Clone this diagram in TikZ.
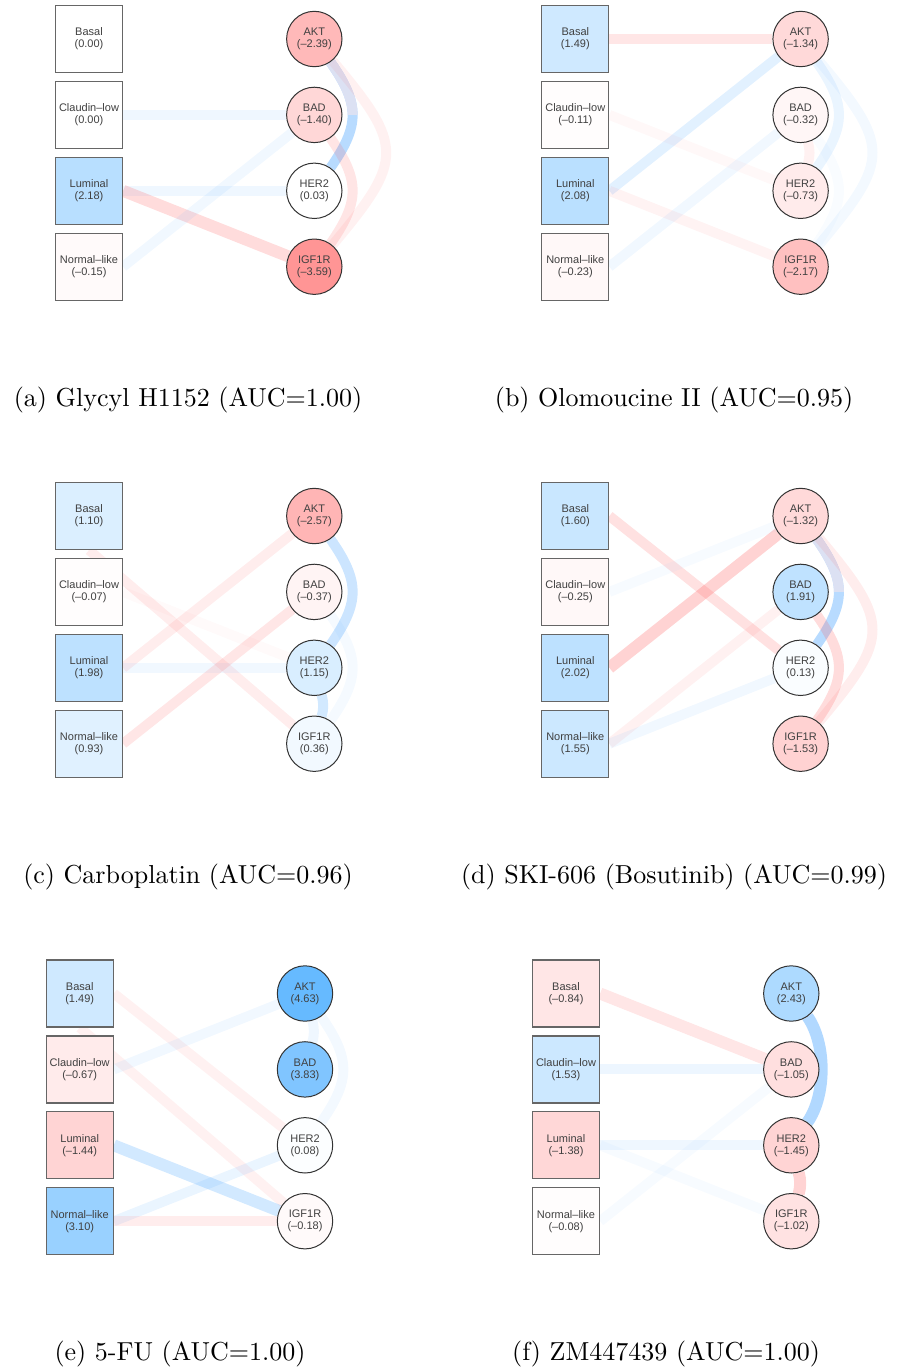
\documentclass[tikz,border=0pt]{standalone}
\usepackage{fontspec}
\newfontfamily\labfont{Liberation Sans}
\newfontfamily\capfont{lmroman10-regular}[Extension=.otf]
\usetikzlibrary{positioning,backgrounds}
\definecolor{posn}{RGB}{0,140,255}
\definecolor{negn}{RGB}{255,30,30}
\definecolor{posc}{RGB}{51,153,255}
\definecolor{negc}{RGB}{255,80,80}
\definecolor{lavc}{RGB}{220,225,243}

\begin{document}
\begin{tikzpicture}[
        x=1pt, y=1pt,
        sub/.style={rectangle, draw=black!60, line width=1.2pt, minimum size=67pt, inner sep=0pt, align=center, text=black!75, font=\labfont\fontsize{11}{12}\selectfont},
        gene/.style={circle, draw=black!80, line width=1pt, minimum size=55.4pt, inner sep=0pt, align=center, text=black!75, font=\labfont\fontsize{11}{12}\selectfont},
        up/.style={fill=posn!#1!white},
        dn/.style={fill=negn!#1!white},
        posedge/.style={draw=posc, draw opacity=#1, line width=10pt},
        negedge/.style={draw=negc, draw opacity=#1, line width=10pt},
        lavedge/.style={draw=lavc, line width=10pt},
        heavy/.style={line width=12pt},
        arc1/.style={out=-75, in=75},
        arc2/.style={out=-55, in=55, looseness=1.25},
        arc3/.style={out=-50, in=50, looseness=1.55},
        subcap/.style={anchor=base, font=\capfont\fontsize{26}{31}\selectfont},
        node distance=7.7pt and 163pt
    ]
    \useasboundingbox (0,0) rectangle (897,-1371);

    % (a)
    \node[sub, up=0]   (a-bas)                  at (89,-39) {Basal\\(0.00)};
    \node[sub, up=0]   (a-cl)   [below=of a-bas] {Claudin–low\\(0.00)};
    \node[sub, up=28]  (a-lum)  [below=of a-cl]  {Luminal\\(2.18)};
    \node[sub, dn=2]   (a-nl)   [below=of a-lum] {Normal–like\\(–0.15)};
    \node[gene, dn=31] (a-akt)  [right=of a-bas] {AKT\\(–2.39)};
    \node[gene, dn=18] (a-bad)  [right=of a-cl]  {BAD\\(–1.40)};
    \node[gene, up=0]  (a-her2) [right=of a-lum] {HER2\\(0.03)};
    \node[gene, dn=47] (a-igf)  [right=of a-nl]  {IGF1R\\(–3.59)};
    \node[subcap] (a-cap) at (188,-406) {(a) Glycyl H1152 (AUC=1.00)};
    \begin{scope}[on background layer]
        \draw[posedge=.35] (a-akt) to[arc2] (a-her2);
        \begin{scope}
            \clip (a-bad.center) rectangle ([xshift=90pt]a-akt.center);
            \draw[lavedge] (a-akt) to[arc2] (a-her2);
        \end{scope}
        \draw[negedge=.08] (a-akt) to[arc3] (a-igf);
        \draw[negedge=.15] (a-bad) to[arc2] (a-igf);
        \draw[posedge=.08] (a-cl.east) -- (a-bad);
        \draw[posedge=.08] (a-lum.east) -- (a-her2);
        \draw[negedge=.2, heavy] (a-lum.east) -- (a-igf);
        \draw[posedge=.07] (a-nl.east) -- (a-bad);
    \end{scope}

    % (b)
    \node[sub, up=19]  (b-bas)                  at (575.3,-39) {Basal\\(1.49)};
    \node[sub, dn=1]   (b-cl)   [below=of b-bas] {Claudin–low\\(–0.11)};
    \node[sub, up=27]  (b-lum)  [below=of b-cl]  {Luminal\\(2.08)};
    \node[sub, dn=3]   (b-nl)   [below=of b-lum] {Normal–like\\(–0.23)};
    \node[gene, dn=17] (b-akt)  [right=of b-bas] {AKT\\(–1.34)};
    \node[gene, dn=4]  (b-bad)  [right=of b-cl]  {BAD\\(–0.32)};
    \node[gene, dn=9]  (b-her2) [right=of b-lum] {HER2\\(–0.73)};
    \node[gene, dn=28] (b-igf)  [right=of b-nl]  {IGF1R\\(–2.17)};
    \node[subcap] (b-cap) at (674,-406) {(b) Olomoucine II (AUC=0.95)};
    \begin{scope}[on background layer]
        \draw[posedge=.1] (b-akt) to[arc2] (b-her2);
        \draw[posedge=.06] (b-akt) to[arc3] (b-igf);
        \draw[negedge=.08] (b-bad) to[arc1] (b-her2);
        \draw[posedge=.03] (b-bad) to[arc2] (b-igf);
        \draw[negedge=.14] (b-bas.east) -- (b-akt);
        \draw[negedge=.04] (b-cl.east) -- (b-her2);
        \draw[posedge=.14] (b-lum.east) -- (b-akt);
        \draw[negedge=.07] (b-lum.east) -- (b-igf);
        \draw[posedge=.07] (b-nl.east) -- (b-bad);
    \end{scope}

    % (c)
    \node[sub, up=14]  (c-bas)                  at (89,-516) {Basal\\(1.10)};
    \node[sub, dn=1]   (c-cl)   [below=of c-bas] {Claudin–low\\(–0.07)};
    \node[sub, up=26]  (c-lum)  [below=of c-cl]  {Luminal\\(1.98)};
    \node[sub, up=12]  (c-nl)   [below=of c-lum] {Normal–like\\(0.93)};
    \node[gene, dn=33] (c-akt)  [right=of c-bas] {AKT\\(–2.57)};
    \node[gene, dn=5]  (c-bad)  [right=of c-cl]  {BAD\\(–0.37)};
    \node[gene, up=15] (c-her2) [right=of c-lum] {HER2\\(1.15)};
    \node[gene, up=5]  (c-igf)  [right=of c-nl]  {IGF1R\\(0.36)};
    \node[subcap] (c-cap) at (188,-883) {(c) Carboplatin (AUC=0.96)};
    \begin{scope}[on background layer]
        \draw[posedge=.25] (c-akt) to[arc2] (c-her2);
        \draw[posedge=.05] (c-bad) to[arc2] (c-igf);
        \draw[posedge=.22] (c-her2) to[arc1] (c-igf);
        \draw[negedge=.1] (c-bas.south) -- (c-igf);
        \draw[negedge=.03] (c-cl.east) -- (c-her2);
        \draw[negedge=.1] (c-lum.east) -- (c-akt);
        \draw[posedge=.07] (c-lum.east) -- (c-her2);
        \draw[negedge=.14] (c-nl.east) -- (c-bad);
    \end{scope}

    % (d)
    \node[sub, up=21]  (d-bas)                  at (575.3,-516) {Basal\\(1.60)};
    \node[sub, dn=3]   (d-cl)   [below=of d-bas] {Claudin–low\\(–0.25)};
    \node[sub, up=26]  (d-lum)  [below=of d-cl]  {Luminal\\(2.02)};
    \node[sub, up=20]  (d-nl)   [below=of d-lum] {Normal–like\\(1.55)};
    \node[gene, dn=17] (d-akt)  [right=of d-bas] {AKT\\(–1.32)};
    \node[gene, up=25] (d-bad)  [right=of d-cl]  {BAD\\(1.91)};
    \node[gene, up=2]  (d-her2) [right=of d-lum] {HER2\\(0.13)};
    \node[gene, dn=20] (d-igf)  [right=of d-nl]  {IGF1R\\(–1.53)};
    \node[subcap] (d-cap) at (674,-883) {(d) SKI-606 (Bosutinib) (AUC=0.99)};
    \begin{scope}[on background layer]
        \draw[posedge=.35] (d-akt) to[arc2] (d-her2);
        \begin{scope}
            \clip (d-bad.center) rectangle ([xshift=90pt]d-akt.center);
            \draw[lavedge] (d-akt) to[arc2] (d-her2);
        \end{scope}
        \draw[negedge=.1] (d-akt) to[arc3] (d-igf);
        \draw[negedge=.2] (d-bad) to[arc2] (d-igf);
        \draw[negedge=.17] (d-bas.east) -- (d-her2);
        \draw[posedge=.04] (d-cl.east) -- (d-akt);
        \draw[negedge=.25, heavy] (d-lum.east) -- (d-akt);
        \draw[negedge=.08] (d-nl.east) -- (d-bad);
        \draw[posedge=.07] (d-nl.east) -- (d-her2);
    \end{scope}

    % (e)
    \node[sub, up=19]  (e-bas)                  at (79.7,-993.5) {Basal\\(1.49)};
    \node[sub, dn=9]   (e-cl)   [below=of e-bas] {Claudin–low\\(–0.67)};
    \node[sub, dn=19]  (e-lum)  [below=of e-cl]  {Luminal\\(–1.44)};
    \node[sub, up=40]  (e-nl)   [below=of e-lum] {Normal–like\\(3.10)};
    \node[gene, up=60] (e-akt)  [right=of e-bas] {AKT\\(4.63)};
    \node[gene, up=50] (e-bad)  [right=of e-cl]  {BAD\\(3.83)};
    \node[gene, up=1]  (e-her2) [right=of e-lum] {HER2\\(0.08)};
    \node[gene, dn=2]  (e-igf)  [right=of e-nl]  {IGF1R\\(–0.18)};
    \node[subcap] (e-cap) at (180,-1360) {(e) 5-FU (AUC=1.00)};
    \begin{scope}[on background layer]
        \draw[posedge=.08] (e-akt) to[arc1] (e-bad);
        \draw[posedge=.06] (e-akt) to[arc2] (e-her2);
        \draw[negedge=.08] (e-bas.east) -- (e-her2);
        \draw[negedge=.08] (e-bas.south) -- (e-igf);
        \draw[posedge=.07] (e-cl.east) -- (e-akt);
        \draw[posedge=.22, heavy] (e-lum.east) -- (e-igf);
        \draw[posedge=.1] (e-nl.east) -- (e-her2);
        \draw[negedge=.1] (e-nl.east) -- (e-igf);
    \end{scope}

    % (f)
    \node[sub, dn=11]  (f-bas)                  at (566,-993.5) {Basal\\(–0.84)};
    \node[sub, up=20]  (f-cl)   [below=of f-bas] {Claudin–low\\(1.53)};
    \node[sub, dn=18]  (f-lum)  [below=of f-cl]  {Luminal\\(–1.38)};
    \node[sub, dn=1]   (f-nl)   [below=of f-lum] {Normal–like\\(–0.08)};
    \node[gene, up=32] (f-akt)  [right=of f-bas] {AKT\\(2.43)};
    \node[gene, dn=14] (f-bad)  [right=of f-cl]  {BAD\\(–1.05)};
    \node[gene, dn=19] (f-her2) [right=of f-lum] {HER2\\(–1.45)};
    \node[gene, dn=13] (f-igf)  [right=of f-nl]  {IGF1R\\(–1.02)};
    \node[subcap] (f-cap) at (666,-1360) {(f) ZM447439 (AUC=1.00)};
    \begin{scope}[on background layer]
        \draw[posedge=.38, heavy] (f-akt) to[arc2, looseness=.8] (f-her2);
        \draw[negedge=.25, heavy] (f-her2) to[arc1] (f-igf);
        \draw[negedge=.14, heavy] (f-bas.east) -- (f-bad);
        \draw[posedge=.09] (f-cl.east) -- (f-bad);
        \draw[posedge=.08] (f-lum.east) -- (f-her2);
        \draw[posedge=.04] (f-lum.east) -- (f-igf);
        \draw[posedge=.04] (f-nl.east) -- (f-bad);
    \end{scope}
\end{tikzpicture}
\end{document}
